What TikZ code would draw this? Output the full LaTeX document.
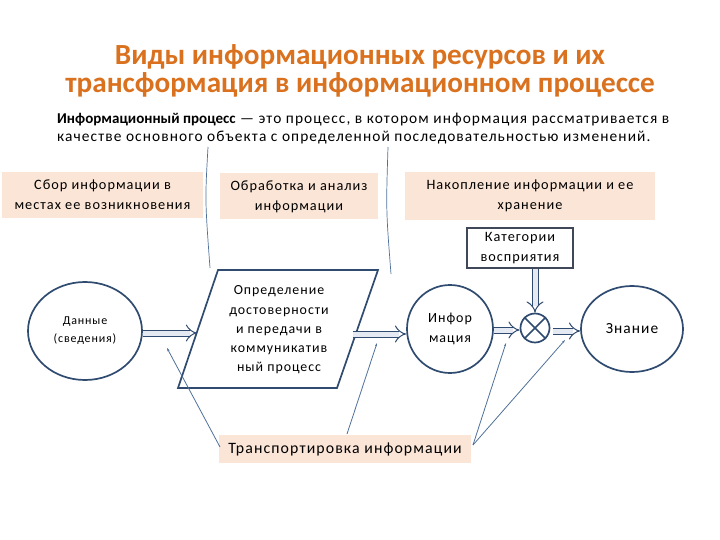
\documentclass[tikz,border=0pt]{standalone}
\usepackage{fontspec}
\setmainfont{Carlito}
\newfontfamily\lsf[LetterSpace=7]{Carlito}
\usetikzlibrary{shapes.geometric,arrows.meta}
\definecolor{titleor}{HTML}{D9711E}
\definecolor{peach}{HTML}{FBE5D6}
\definecolor{dblue}{HTML}{2F4B6F}
\definecolor{lblue}{HTML}{4F7099}
\definecolor{afill}{HTML}{E4E9F2}
\definecolor{catb}{HTML}{3E4859}
\tikzset{
  pbox/.style={fill=peach, align=center, font=\lsf\fontsize{14.3}{20}\selectfont, inner sep=0pt},
  ell/.style={ellipse, draw=dblue, line width=1.7pt, inner sep=0pt, align=center},
  hollow/.style={draw=dblue, line width=1pt, double=afill, double distance=5pt, -{Implies[length=7.5pt]}},
  thin/.style={draw=lblue, line width=0.8pt, -{Stealth[length=3.5pt,width=2.2pt]}},
  brk/.style={draw=lblue, line width=0.7pt}
}
\begin{document}
\begin{tikzpicture}[x=1pt,y=-1pt]
\useasboundingbox (0,0) rectangle (720,540);
% title
\node[font=\fontsize{29.2}{28}\selectfont\bfseries, text=titleor, align=center] (title) at (360,71)
  {Виды информационных ресурсов и их\\трансформация в информационном процессе};
% definition
\node[font=\lsf\fontsize{15.4}{18}\selectfont, align=left, anchor=north west, inner sep=0pt] (def) at (57,113)
  {{\fontspec{Carlito}\fontsize{15}{18}\selectfont\bfseries Информационный процесс} — это процесс, в котором информация рассматривается в\\
   качестве основного объекта с определенной последовательностью изменений.};
% top boxes
\node[pbox, minimum width=201pt, minimum height=46pt] (b1) at (102.5,195)
  {Сбор информации в\\местах ее возникновения};
\node[pbox, minimum width=158pt, minimum height=46pt] (b2) at (299,196.5)
  {Обработка и анализ\\информации};
\node[pbox, minimum width=250pt, minimum height=48pt] (b3) at (530,196)
  {Накопление информации и ее\\хранение};
% bracket lines
\draw[brk] (208,147) .. controls (205,200) .. (210,268);
\draw[brk] (388,147) .. controls (386,210) .. (391,274);
% categories
\node[draw=catb, line width=1.4pt, minimum width=106pt, minimum height=40pt, inner sep=0pt, align=center,
  font=\lsf\fontsize{14.3}{20}\selectfont] (cat) at (520,248) {Категории\\восприятия};
% parallelogram
\coordinate (p1) at (218,270);
\coordinate (p2) at (378,270);
\coordinate (p3) at (337,388);
\coordinate (p4) at (178,388);
\draw[draw=dblue, line width=1.7pt, fill=white] (p1) -- (p2) -- (p3) -- (p4) -- cycle;
\node[align=center, font=\lsf\fontsize{13.9}{19.2}\selectfont, inner sep=0pt] (par) at (279,330)
  {Определение\\достоверности\\и передачи в\\коммуникатив\\ный процесс};
\coordinate (pL) at (197,333);
\coordinate (pR) at (353,334);
% ellipses
\node[ell, minimum width=114pt, minimum height=98pt, font=\lsf\fontsize{12}{18}\selectfont] (dan) at (85,331) {Данные\\(сведения)};
\node[ell, minimum width=86pt, minimum height=88pt, font=\lsf\fontsize{14}{20}\selectfont] (inf) at (450,329) {Инфор\\мация};
\node[ell, minimum width=102pt, minimum height=86pt, font=\lsf\fontsize{15.4}{18}\selectfont] (zn) at (632,329) {Знание};
% sum junction
\node[circle, draw=dblue, line width=1.7pt, minimum size=29pt, inner sep=0pt] (x) at (535,328) {};
\draw[dblue, line width=1.7pt] (x.45) -- (x.225) (x.135) -- (x.315);
% hollow arrows
\draw[hollow] (dan.east |- pL) -- (pL);
\draw[hollow] (pR) -- (inf.west |- pR);
\draw[hollow] (inf.east |- 0,330) -- (x.west |- 0,330);
\draw[hollow] (cat.south -| x.north) -- (x.north);
\draw[hollow] (x.east |- 0,331) ++(3,0) -- (zn.west |- 0,331);
% transport
\node[fill=peach, minimum width=252pt, minimum height=28pt, inner sep=0pt, font=\lsf\fontsize{15.8}{18}\selectfont] (tr) at (345,449)
  {Транспортировка информации};
\coordinate (t1) at (167,348);
\coordinate (t2) at (377,343);
\coordinate (t3) at (506,343);
\coordinate (t4) at (565,340);
\draw[thin] (220,447) -- (t1);
\draw[thin] (347,434) -- (t2);
\draw[thin] (473,445) -- (t3);
\draw[thin] (473,445) -- (t4);
\end{tikzpicture}
\end{document}
